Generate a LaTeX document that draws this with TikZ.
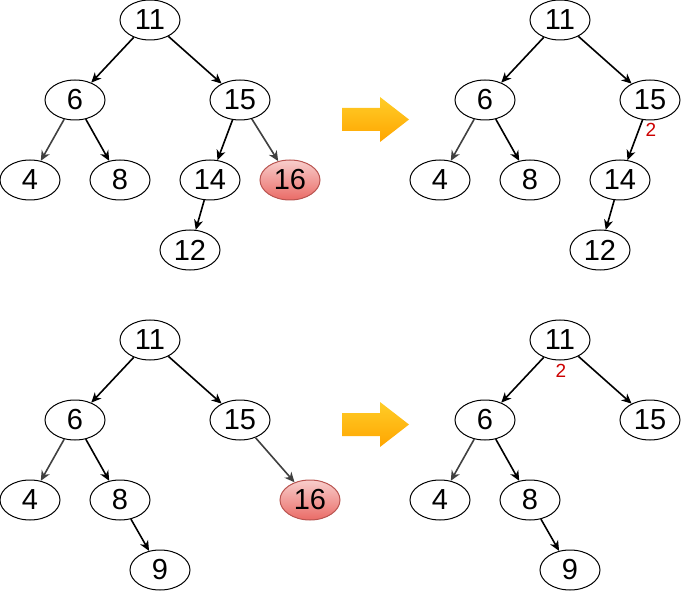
\documentclass[tikz,border=0pt]{standalone}
\usepackage{fontspec}
\setmainfont{Liberation Sans}
\usetikzlibrary{arrows.meta,shapes.geometric,shapes.arrows}
\definecolor{edgegrey}{HTML}{404040}
\definecolor{redfillA}{HTML}{F8CECC}
\definecolor{redfillB}{HTML}{EA6B66}
\definecolor{redstroke}{HTML}{B85450}
\definecolor{orA}{HTML}{FFCD28}
\definecolor{orB}{HTML}{FFA500}
\definecolor{lblred}{HTML}{CC0000}
\tikzset{
  tnode/.style={ellipse,draw=black,line width=1pt,fill=white,minimum width=60pt,minimum height=40pt,inner sep=0pt,font=\fontsize{29}{32}\selectfont},
  hnode/.style={tnode,draw=redstroke,top color=redfillA,bottom color=redfillB},
  edge/.style={draw=black,line width=1.6pt,-{Stealth[length=10pt,width=9pt,inset=3pt]}},
  gedge/.style={edge,draw=edgegrey},
  bigarrow/.style={top color=orA,bottom color=orB,draw=none},
  lbl/.style={text=lblred,font=\fontsize{19}{21}\selectfont,inner sep=0pt}
}
\begin{document}
\begin{tikzpicture}[x=1pt,y=-1pt]
\useasboundingbox (0,0) rectangle (681,591);
% top left
\node[tnode] (a11) at (150,20) {11};
\node[tnode] (a6) at (75,100) {6};
\node[tnode] (a15) at (240,100) {15};
\node[tnode] (a4) at (30,180) {4};
\node[tnode] (a8) at (120,180) {8};
\node[tnode] (a14) at (210,180) {14};
\node[hnode] (a16) at (290,180) {16};
\node[tnode] (a12) at (190,250) {12};
\draw[edge] (a11) -- (a6);
\draw[edge] (a11) -- (a15);
\draw[gedge] (a6) -- (a4);
\draw[edge] (a6) -- (a8);
\draw[edge] (a15) -- (a14);
\draw[gedge] (a15) -- (a16);
\draw[edge] (a14) -- (a12);
% top right
\node[tnode] (b11) at (560,20) {11};
\node[tnode] (b6) at (485,100) {6};
\node[tnode] (b15) at (650,100) {15};
\node[tnode] (b4) at (440,180) {4};
\node[tnode] (b8) at (530,180) {8};
\node[tnode] (b14) at (620,180) {14};
\node[tnode] (b12) at (600,250) {12};
\draw[edge] (b11) -- (b6);
\draw[edge] (b11) -- (b15);
\draw[gedge] (b6) -- (b4);
\draw[edge] (b6) -- (b8);
\draw[edge] (b15) -- (b14);
\draw[edge] (b14) -- (b12);
\node[lbl] (l1) at (651,130) {2};
% bottom left
\node[tnode] (c11) at (150,340) {11};
\node[tnode] (c6) at (75,420) {6};
\node[tnode] (c15) at (240,420) {15};
\node[tnode] (c4) at (30,500) {4};
\node[tnode] (c8) at (120,500) {8};
\node[hnode] (c16) at (310,500) {16};
\node[tnode] (c9) at (160,570) {9};
\draw[edge] (c11) -- (c6);
\draw[edge] (c11) -- (c15);
\draw[gedge] (c6) -- (c4);
\draw[edge] (c6) -- (c8);
\draw[edge] (c8) -- (c9);
\draw[gedge] (c15) -- (c16);
% bottom right
\node[tnode] (d11) at (560,340) {11};
\node[tnode] (d6) at (485,420) {6};
\node[tnode] (d15) at (650,420) {15};
\node[tnode] (d4) at (440,500) {4};
\node[tnode] (d8) at (530,500) {8};
\node[tnode] (d9) at (570,570) {9};
\draw[edge] (d11) -- (d6);
\draw[edge] (d11) -- (d15);
\draw[gedge] (d6) -- (d4);
\draw[edge] (d6) -- (d8);
\draw[edge] (d8) -- (d9);
\node[lbl] (l2) at (561,371) {2};
% big arrows
\path[bigarrow] (342,108) -- (380,108) -- (380,97) -- (409,119.5) -- (380,142) -- (380,131) -- (342,131) -- cycle;
\path[bigarrow] (342,413) -- (380,413) -- (380,402) -- (409,424.5) -- (380,447) -- (380,436) -- (342,436) -- cycle;
\end{tikzpicture}
\end{document}
